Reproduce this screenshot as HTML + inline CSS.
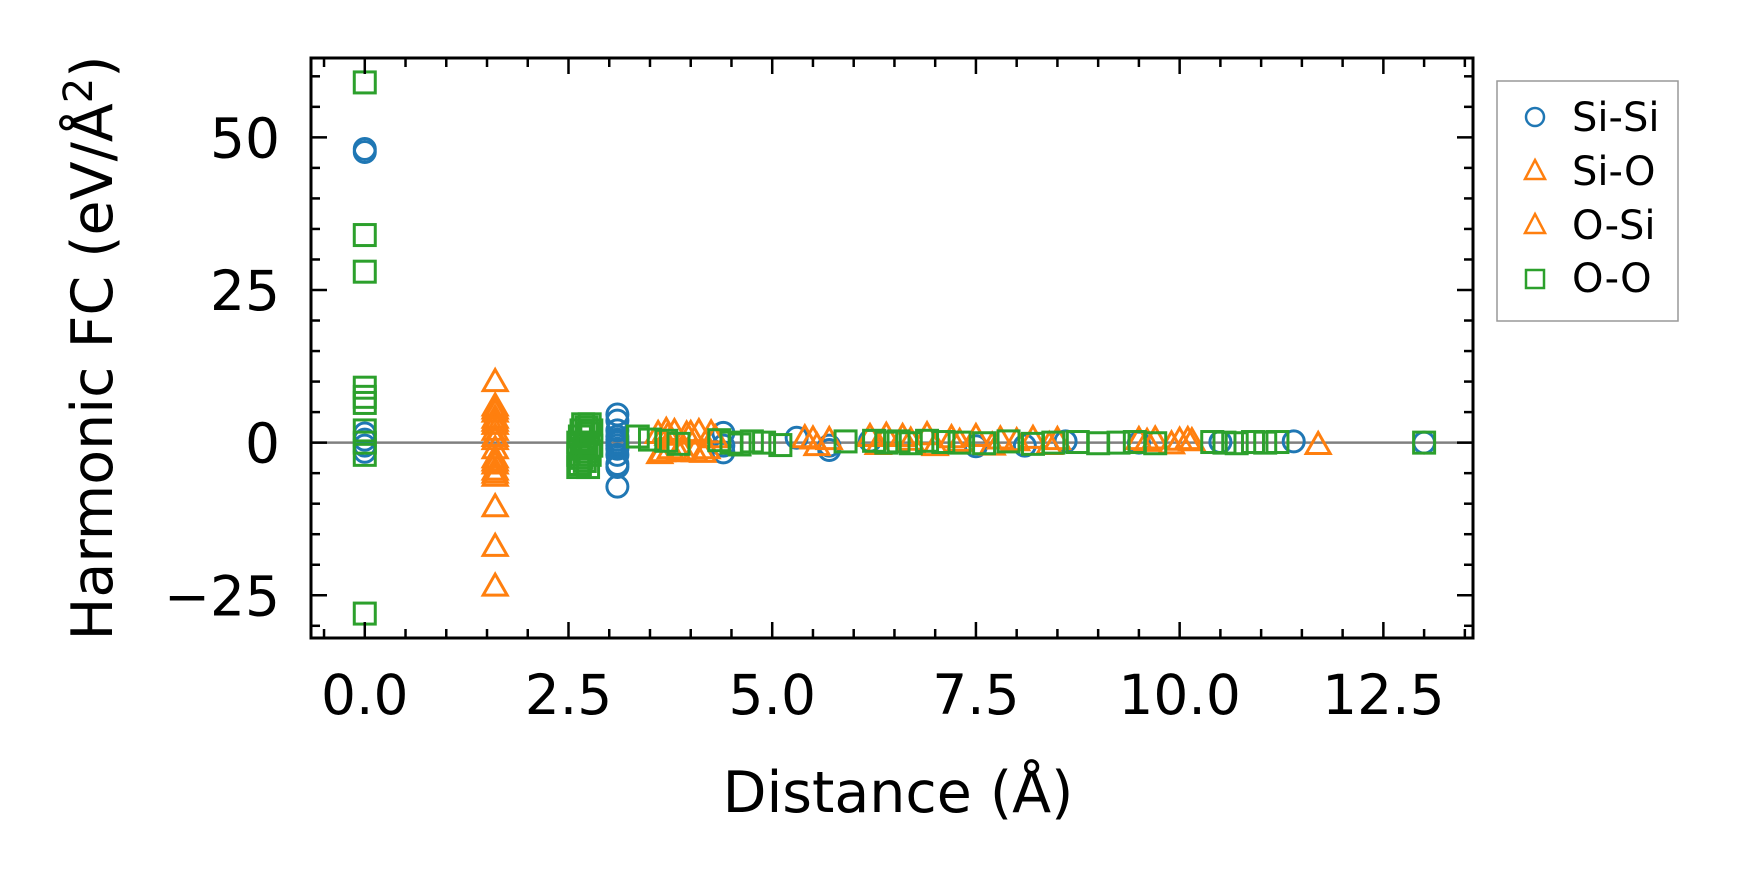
<!DOCTYPE html>
<html><head><meta charset="utf-8"><style>
html,body{margin:0;padding:0;background:#fff;}
svg{display:block;font-family:"DejaVu Sans","Liberation Sans",sans-serif;}
</style></head><body>
<svg id="chart" width="1737" height="883" viewBox="0 0 1737 883" xmlns="http://www.w3.org/2000/svg">
<rect width="1737" height="883" fill="#fff"/>
<g id="plot"></g>
<g id="axes"></g>
<text transform="translate(112,348) rotate(-90)" text-anchor="middle" font-size="57">Harmonic FC (eV/Å<tspan font-size="40" dy="-20">2</tspan><tspan dy="20">)</tspan></text>
<text x="898" y="812" text-anchor="middle" font-size="57">Distance (Å)</text>
<g>
<rect x="1497" y="81" width="181" height="240" fill="#fff" stroke="#999" stroke-width="1.5"/>
<g><circle cx="1535" cy="117" r="9" fill="none" stroke="#1f77b4" stroke-width="2.5"/><text x="1572" y="131" font-size="40">Si-Si</text></g>
<g><polygon points="1535,160 1545,179 1525,179" fill="none" stroke="#ff7f0e" stroke-width="2.5"/><text x="1572" y="185" font-size="40">Si-O</text></g>
<g><polygon points="1535,214 1545,233 1525,233" fill="none" stroke="#ff7f0e" stroke-width="2.5"/><text x="1572" y="239" font-size="40">O-Si</text></g>
<g><rect x="1526" y="270" width="18" height="18" fill="none" stroke="#2ca02c" stroke-width="2.5"/><text x="1572" y="292" font-size="40">O-O</text></g>
</g>
</svg>
<script>
const xTicks=[0,2.5,5,7.5,10,12.5];
const xTickLabels=["0.0","2.5","5.0","7.5","10.0","12.5"];
const yTicks=[-25,0,25,50];
const yTickLabels=["\u221225","0","25","50"];
const siSiDist=[0,0,0,0,0,0,3.1,3.1,3.1,3.1,3.1,3.1,3.1,3.1,3.1,3.1,3.1,3.1,4.4,4.4,4.4,5.3,5.7,5.7,6.2,7.5,8.1,8.6,9.5,10.5,11.4,13.0];
const siSiVal=[47.6,48.1,1.5,0.5,-0.5,-1.5,4.6,3.6,2,1,0.5,0,-0.5,-1,-2,-3.5,-4,-7.2,1.6,-0.5,-1.6,0.8,-0.5,-1.2,0.3,-0.6,-0.5,0.2,0,0.1,0.2,0];
const siODist=[1.6,1.6,1.6,1.6,1.6,1.6,1.6,1.6,1.6,1.6,1.6,1.6,1.6,1.6,1.6,3.6,3.65,3.7,3.75,3.8,3.9,4.0,4.05,4.1,4.2,4.25,5.4,5.55,5.7,6.2,6.4,6.6,6.9,7.2,7.5,7.8,8.2,8.5,9.5,9.7,10.0,10.1,11.7];
const siOVal=[10,6,5,4,3,2,0.5,-1,-2.5,-3.5,-4.5,-5.5,-10.5,-17,-23.5,1.5,-1.5,2,-1,1.8,-1.2,1.5,-1.5,1.8,-1,1.6,0.8,-0.5,0.5,1,1.2,1,1.3,0.8,1,0.6,0.7,0.5,0.5,0.6,0.4,0.5,-0.3];
const oSiDist=[1.6,1.6,1.6,1.6,1.6,3.62,3.72,3.85,3.95,4.15,4.3,5.5,6.3,6.7,7.0,7.3,7.7,8.0,8.4,9.6,9.9,10.15];
const oSiVal=[5.5,3.5,1,-3,-5,-1.8,1.2,-1.5,1.4,-1.6,0.8,0.6,-0.3,0.4,-0.5,0.2,-0.4,0.3,-0.3,0.2,-0.2,0.3];
const oODist=[0,0,0,0,0,0,0,0,0,0,2.62,2.62,2.62,2.64,2.64,2.66,2.66,2.68,2.68,2.7,2.7,2.72,2.72,2.74,2.74,2.76,2.76,2.78,2.78,3.35,3.5,3.7,3.85,4.35,4.5,4.6,4.75,4.9,5.1,5.9,6.25,6.4,6.55,6.7,6.9,7.1,7.3,7.6,7.9,8.2,8.45,8.75,9.0,9.25,9.45,9.7,10.4,10.55,10.7,10.9,11.05,11.2,13.0];
const oOVal=[59,34,28,9,7.5,6.5,2,0,-2,-28,-4,-2,0,-3.5,1,-2.5,2,-1,3,-3,0,-1.5,2.5,-4,1.5,-2,3,-0.5,2,1,0.5,0.3,-0.2,0.4,0,-0.3,0.2,0,-0.4,0.2,0.3,0,0.2,-0.1,0.3,0.1,0,-0.1,0.2,-0.2,0,0.1,-0.1,0,0.1,-0.1,0.1,0,-0.1,0.1,0,0.1,0];

const L=311,R=1473,T=58,B=638;
const xMin=-0.66,xMax=13.6,yMin=-32,yMax=63;
const X=v=>L+(v-xMin)/(xMax-xMin)*(R-L);
const Y=v=>B-(v-yMin)/(yMax-yMin)*(B-T);
const NS="http://www.w3.org/2000/svg";
const plot=document.getElementById('plot');
const axes=document.getElementById('axes');
function mk(tag,attrs,parent){const e=document.createElementNS(NS,tag);for(const k in attrs)e.setAttribute(k,attrs[k]);parent.appendChild(e);return e;}

const zl=mk('line',{x1:L,x2:R,y1:Y(0),y2:Y(0),stroke:'#808080','stroke-width':2.5},plot);



siSiDist.forEach((d,i)=>{
  const c=mk('circle',{cx:X(d),cy:Y(siSiVal[i]),r:10.5,fill:'none',stroke:'#1f77b4','stroke-width':3},plot);
  
  
});
function tri(d,v,name){
  const x=X(d),y=Y(v);
  const p=mk('polygon',{points:`${x},${y-12} ${x+12},${y+9} ${x-12},${y+9}`,fill:'none',stroke:'#ff7f0e','stroke-width':3},plot);
  
  
}
siODist.forEach((d,i)=>tri(d,siOVal[i],'si-o-point'));
oSiDist.forEach((d,i)=>tri(d,oSiVal[i],'o-si-point'));
oODist.forEach((d,i)=>{
  const s=mk('rect',{x:X(d)-10.5,y:Y(oOVal[i])-10.5,width:21,height:21,fill:'none',stroke:'#2ca02c','stroke-width':3},plot);
  
  
});

for(let k=-1;k<=27;k++){const v=k*0.5;if(v<xMin||v>xMax)continue;const major=Math.abs(v/2.5-Math.round(v/2.5))<1e-6;const len=major?16:9;
  mk('line',{x1:X(v),x2:X(v),y1:B,y2:B-len,stroke:'#000','stroke-width':2.5},axes);
  mk('line',{x1:X(v),x2:X(v),y1:T,y2:T+len,stroke:'#000','stroke-width':2.5},axes);}
for(let v=-30;v<=60;v+=5){const major=v%25===0;const len=major?16:9;
  mk('line',{x1:L,x2:L+len,y1:Y(v),y2:Y(v),stroke:'#000','stroke-width':2.5},axes);
  mk('line',{x1:R,x2:R-len,y1:Y(v),y2:Y(v),stroke:'#000','stroke-width':2.5},axes);}
xTicks.forEach((v,i)=>{const t=mk('text',{x:X(v),y:714,'text-anchor':'middle','font-size':55},axes);t.textContent=xTickLabels[i];
  
  });
yTicks.forEach((v,i)=>{const t=mk('text',{x:280,y:Y(v)+20,'text-anchor':'end','font-size':55},axes);t.textContent=yTickLabels[i];
  
  });
const fr=mk('rect',{x:L,y:T,width:R-L,height:B-T,fill:'none',stroke:'#000','stroke-width':3},axes);


</script>
</body></html>
